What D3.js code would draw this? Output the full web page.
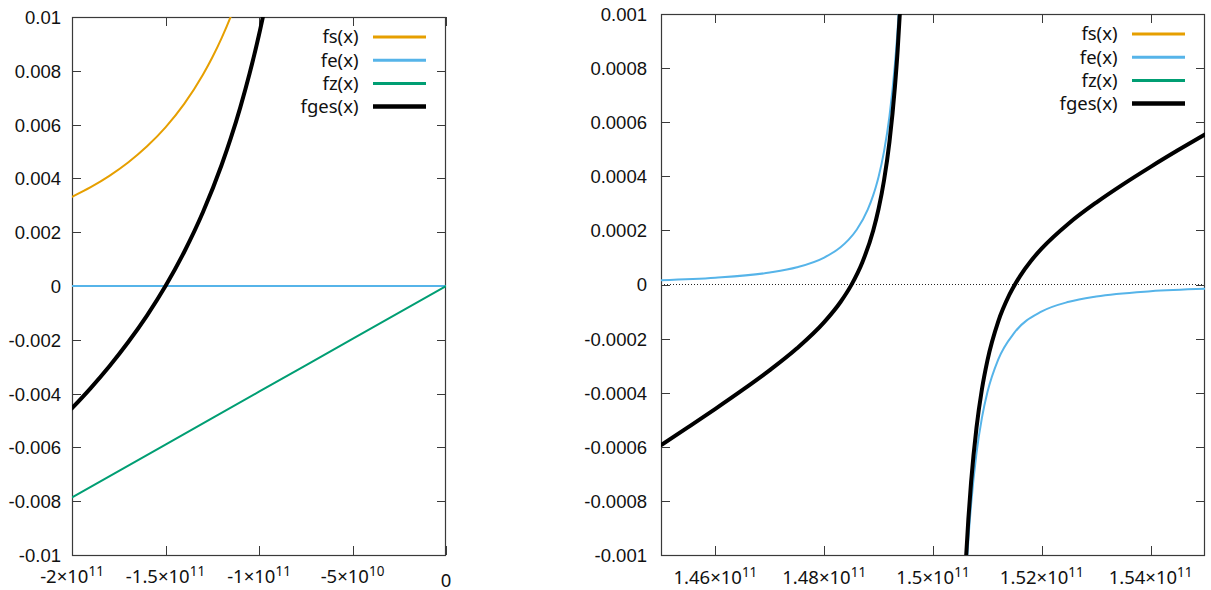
<!DOCTYPE html>
<html>
<head>
<meta charset="utf-8">
<script src="https://cdn.jsdelivr.net/npm/d3@7"></script>
<style>
  html, body { margin: 0; padding: 0; background: #fff; }
  svg { display: block; font-family: "Noto Sans", "Open Sans", sans-serif; }
</style>
</head>
<body>
<svg id="chart" width="1211" height="590"></svg>
<script>
// legend entries, same for both panels
const seriesNames = ["fs(x)", "fe(x)", "fz(x)", "fges(x)"];

// ---- left panel values ----
const leftYTicks = [-0.01, -0.008, -0.006, -0.004, -0.002, 0, 0.002, 0.004, 0.006, 0.008, 0.01];
const leftYTickLabels = ["-0.01", "-0.008", "-0.006", "-0.004", "-0.002", "0", "0.002", "0.004", "0.006", "0.008", "0.01"];
const leftXTicks = [-2e11, -1.5e11, -1e11, -5e10, 0];
const leftXTickLabels = ["-2×10^11", "-1.5×10^11", "-1×10^11", "-5×10^10", "0"];

const fsLeftX = [-2.0e11, -1.9e11, -1.8e11, -1.7e11, -1.6e11, -1.5e11, -1.4e11, -1.3e11, -1.25e11, -1.2e11, -1.15e11, -1.1e11];
const fsLeftY = [0.003318, 0.003676, 0.004096, 0.004592, 0.005184, 0.005898, 0.006770, 0.007852, 0.008493, 0.009215, 0.010034, 0.010967];

const feLeftX = [-2e11, -1e11, 0];
const feLeftY = [0, 0, 0];

const fzLeftX = [-2e11, -1.5e11, -1e11, -5e10, 0];
const fzLeftY = [-0.00786, -0.0059, -0.00393, -0.00197, 0];

const fgesLeftX = [-2.0e11, -1.9e11, -1.8e11, -1.7e11, -1.6e11, -1.5e11, -1.4e11, -1.3e11, -1.2e11, -1.15e11, -1.1e11, -1.05e11, -1.0e11, -0.95e11];
const fgesLeftY = [-0.004546, -0.003795, -0.002982, -0.002092, -0.001107, 0, 0.001265, 0.002740, 0.004497, 0.005512, 0.006642, 0.007907, 0.009338, 0.010969];

// ---- right panel values ----
const rightYTicks = [-0.001, -0.0008, -0.0006, -0.0004, -0.0002, 0, 0.0002, 0.0004, 0.0006, 0.0008, 0.001];
const rightYTickLabels = ["-0.001", "-0.0008", "-0.0006", "-0.0004", "-0.0002", "0", "0.0002", "0.0004", "0.0006", "0.0008", "0.001"];
const rightXTicks = [1.46e11, 1.48e11, 1.5e11, 1.52e11, 1.54e11];
const rightXTickLabels = ["1.46×10^11", "1.48×10^11", "1.5×10^11", "1.52×10^11", "1.54×10^11"];

const fsRightX = [1.45e11, 1.5e11, 1.55e11];
const fsRightY = [-0.00631, -0.0059, -0.00552];

const fzRightX = [1.45e11, 1.5e11, 1.55e11];
const fzRightY = [0.0057, 0.0059, 0.0061];

// fe has a pole at the earth, so two branches
const feRightX1 = [1.45e11, 1.46e11, 1.47e11, 1.475e11, 1.48e11, 1.483e11, 1.4845e11, 1.486e11, 1.488e11, 1.489e11, 1.4895e11, 1.49e11, 1.491e11, 1.492e11, 1.493e11, 1.4935e11, 1.494e11];
const feRightY1 = [1.59e-5, 2.49e-5, 4.43e-5, 6.38e-5, 9.97e-5, 1.379e-4, 1.659e-4, 2.034e-4, 2.768e-4, 3.294e-4, 3.615e-4, 3.986e-4, 4.921e-4, 6.228e-4, 8.135e-4, 9.434e-4, 1.1072e-3];
const feRightX2 = [1.506e11, 1.5065e11, 1.507e11, 1.508e11, 1.509e11, 1.51e11, 1.512e11, 1.515e11, 1.52e11, 1.525e11, 1.53e11, 1.54e11, 1.55e11];
const feRightY2 = [-1.1072e-3, -9.434e-4, -8.135e-4, -6.228e-4, -4.921e-4, -3.986e-4, -2.768e-4, -1.772e-4, -9.97e-5, -6.38e-5, -4.43e-5, -2.49e-5, -1.59e-5];

const fgesRightX1 = [1.45e11, 1.455e11, 1.46e11, 1.465e11, 1.47e11, 1.475e11, 1.48e11, 1.483e11, 1.485e11, 1.487e11, 1.489e11, 1.49e11, 1.491e11, 1.492e11, 1.493e11, 1.4935e11, 1.494e11];
const fgesRightY1 = [-5.94e-4, -5.274e-4, -4.598e-4, -3.90e-4, -3.167e-4, -2.359e-4, -1.392e-4, -6.47e-5, -1.4e-6, 8.15e-5, 1.988e-4, 2.801e-4, 3.855e-4, 5.281e-4, 7.308e-4, 8.66e-4, 1.036e-3];
const fgesRightX2 = [1.506e11, 1.5065e11, 1.507e11, 1.508e11, 1.509e11, 1.51e11, 1.512e11, 1.514e11, 1.516e11, 1.518e11, 1.52e11, 1.525e11, 1.53e11, 1.535e11, 1.54e11, 1.545e11, 1.55e11];
const fgesRightY2 = [-1.0365e-3, -8.67e-4, -7.31e-4, -5.287e-4, -3.864e-4, -2.813e-4, -1.362e-4, -3.97e-5, 3.12e-5, 8.71e-5, 1.333e-4, 2.265e-4, 3.029e-4, 3.712e-4, 4.35e-4, 4.96e-4, 5.55e-4];

// styles
const colors = ["#E69F00", "#56B4E9", "#009E73", "#000000"];
const widths = [2, 2, 2, 4];
const legendWidths = [3, 3, 3, 4.5];
const axisColor = "#3a3a3a";
const fontSize = 18.5;

function zip(xs, ys) {
  return xs.map((x, i) => [x, ys[i]]);
}

function renderPanel(svg, cfg) {
  let { left, right, top, bottom } = cfg;
  let g = svg.append("g");

  let xScale = d3.scaleLinear().domain(cfg.xDomain).range([left, right]);
  let yScale = d3.scaleLinear().domain(cfg.yDomain).range([bottom, top]);

  //clip region
  g.append("clipPath")
    .attr("id", cfg.id + "-clip")
    .append("rect")
    .attr("x", left)
    .attr("y", top)
    .attr("width", right - left)
    .attr("height", bottom - top);

  //y axis labels (no domain line, border drawn later)
  let yAxis = d3.axisLeft(yScale)
    .tickValues(cfg.yTicks)
    .tickFormat((d, i) => cfg.yLabels[i])
    .tickSize(0)
    .tickPadding(cfg.yLabelGap);
  let ya = g.append("g")
    .attr("transform", "translate(" + left + ",0)")
    .call(yAxis);
  ya.select(".domain").remove();
  ya.selectAll("text")
    .attr("font-size", fontSize)
    .attr("font-family", null)
    .attr("fill", "#111")
    .attr("dy", "0.35em");

  //x axis labels, with superscript exponent
  let xa = g.append("g");
  cfg.xTicks.forEach((t, i) => {
    let parts = cfg.xLabels[i].split("^");
    let txt = xa.append("text")
      .attr("x", xScale(t))
      .attr("y", parts.length > 1 ? cfg.xLabelY : cfg.xLabelY + 3.5)
      .attr("text-anchor", "middle")
      .attr("font-size", fontSize)
      .attr("fill", "#111");
    txt.append("tspan").text(parts[0]);
    if (parts.length > 1) {
      txt.append("tspan")
        .attr("dy", -7)
        .attr("font-size", 13.5)
        .text(parts[1]);
    }
  });

  //zero axis
  if (cfg.zeroAxis) {
    g.append("line")
      .attr("x1", left)
      .attr("x2", right)
      .attr("y1", Math.round(yScale(0)) - 0.5)
      .attr("y2", Math.round(yScale(0)) - 0.5)
      .attr("stroke", "#222")
      .attr("stroke-width", 1)
      .attr("stroke-dasharray", "1,2");
  }

  //ticks, inward on all four sides
  let ticks = g.append("g").attr("stroke", axisColor).attr("stroke-width", 1);
  let tl = 9;
  cfg.yTicks.forEach(t => {
    let y = Math.round(yScale(t)) + 0.5;
    ticks.append("line").attr("x1", left).attr("x2", left + tl).attr("y1", y).attr("y2", y);
    ticks.append("line").attr("x1", right).attr("x2", right - tl).attr("y1", y).attr("y2", y);
  });
  cfg.xTicks.forEach(t => {
    let x = Math.round(xScale(t)) + 0.5;
    ticks.append("line").attr("x1", x).attr("x2", x).attr("y1", bottom).attr("y2", bottom - tl);
    ticks.append("line").attr("x1", x).attr("x2", x).attr("y1", top).attr("y2", top + tl);
  });

  //border
  g.append("rect")
    .attr("x", left + 0.5)
    .attr("y", top + 0.5)
    .attr("width", right - left - 1)
    .attr("height", bottom - top)
    .attr("fill", "none")
    .attr("stroke", axisColor)
    .attr("stroke-width", 1.2);

  //curves
  let line = d3.line()
    .x(d => xScale(d[0]))
    .y(d => yScale(d[1]))
    .curve(d3.curveMonotoneX);
  let plot = g.append("g").attr("clip-path", "url(#" + cfg.id + "-clip)");
  cfg.series.forEach((segments, i) => {
    segments.forEach(seg => {
      plot.append("path")
        .datum(seg)
        .attr("d", line)
        .attr("fill", "none")
        .attr("stroke", colors[i])
        .attr("stroke-width", widths[i])
        .attr("stroke-linejoin", "round")
        .attr("stroke-linecap", "round");
    });
  });

  //legend
  let lg = g.append("g");
  seriesNames.forEach((name, i) => {
    let y = top + 20 + i * 23.2;
    lg.append("text")
      .attr("x", right - 87.5)
      .attr("y", y)
      .attr("dy", "0.35em")
      .attr("text-anchor", "end")
      .attr("font-size", fontSize)
      .attr("fill", "#111")
      .text(name);
    lg.append("line")
      .attr("x1", right - 73)
      .attr("x2", right - 20)
      .attr("y1", y)
      .attr("y2", y)
      .attr("stroke", colors[i])
      .attr("stroke-width", legendWidths[i]);
  });
}

const svg = d3.select("#chart");

renderPanel(svg, {
  id: "left",
  left: 72, right: 446, top: 17, bottom: 555,
  xDomain: [-2e11, 0], yDomain: [-0.01, 0.01],
  yTicks: leftYTicks, yLabels: leftYTickLabels, yLabelGap: 11,
  xTicks: leftXTicks, xLabels: leftXTickLabels, xLabelY: 583,
  zeroAxis: false,
  series: [
    [zip(fsLeftX, fsLeftY)],
    [zip(feLeftX, feLeftY)],
    [zip(fzLeftX, fzLeftY)],
    [zip(fgesLeftX, fgesLeftY)]
  ]
});

renderPanel(svg, {
  id: "right",
  left: 661, right: 1205, top: 14, bottom: 555,
  xDomain: [1.45e11, 1.55e11], yDomain: [-0.001, 0.001],
  yTicks: rightYTicks, yLabels: rightYTickLabels, yLabelGap: 14,
  xTicks: rightXTicks, xLabels: rightXTickLabels, xLabelY: 584,
  zeroAxis: true,
  series: [
    [zip(fsRightX, fsRightY)],
    [zip(feRightX1, feRightY1), zip(feRightX2, feRightY2)],
    [zip(fzRightX, fzRightY)],
    [zip(fgesRightX1, fgesRightY1), zip(fgesRightX2, fgesRightY2)]
  ]
});
</script>
</body>
</html>
